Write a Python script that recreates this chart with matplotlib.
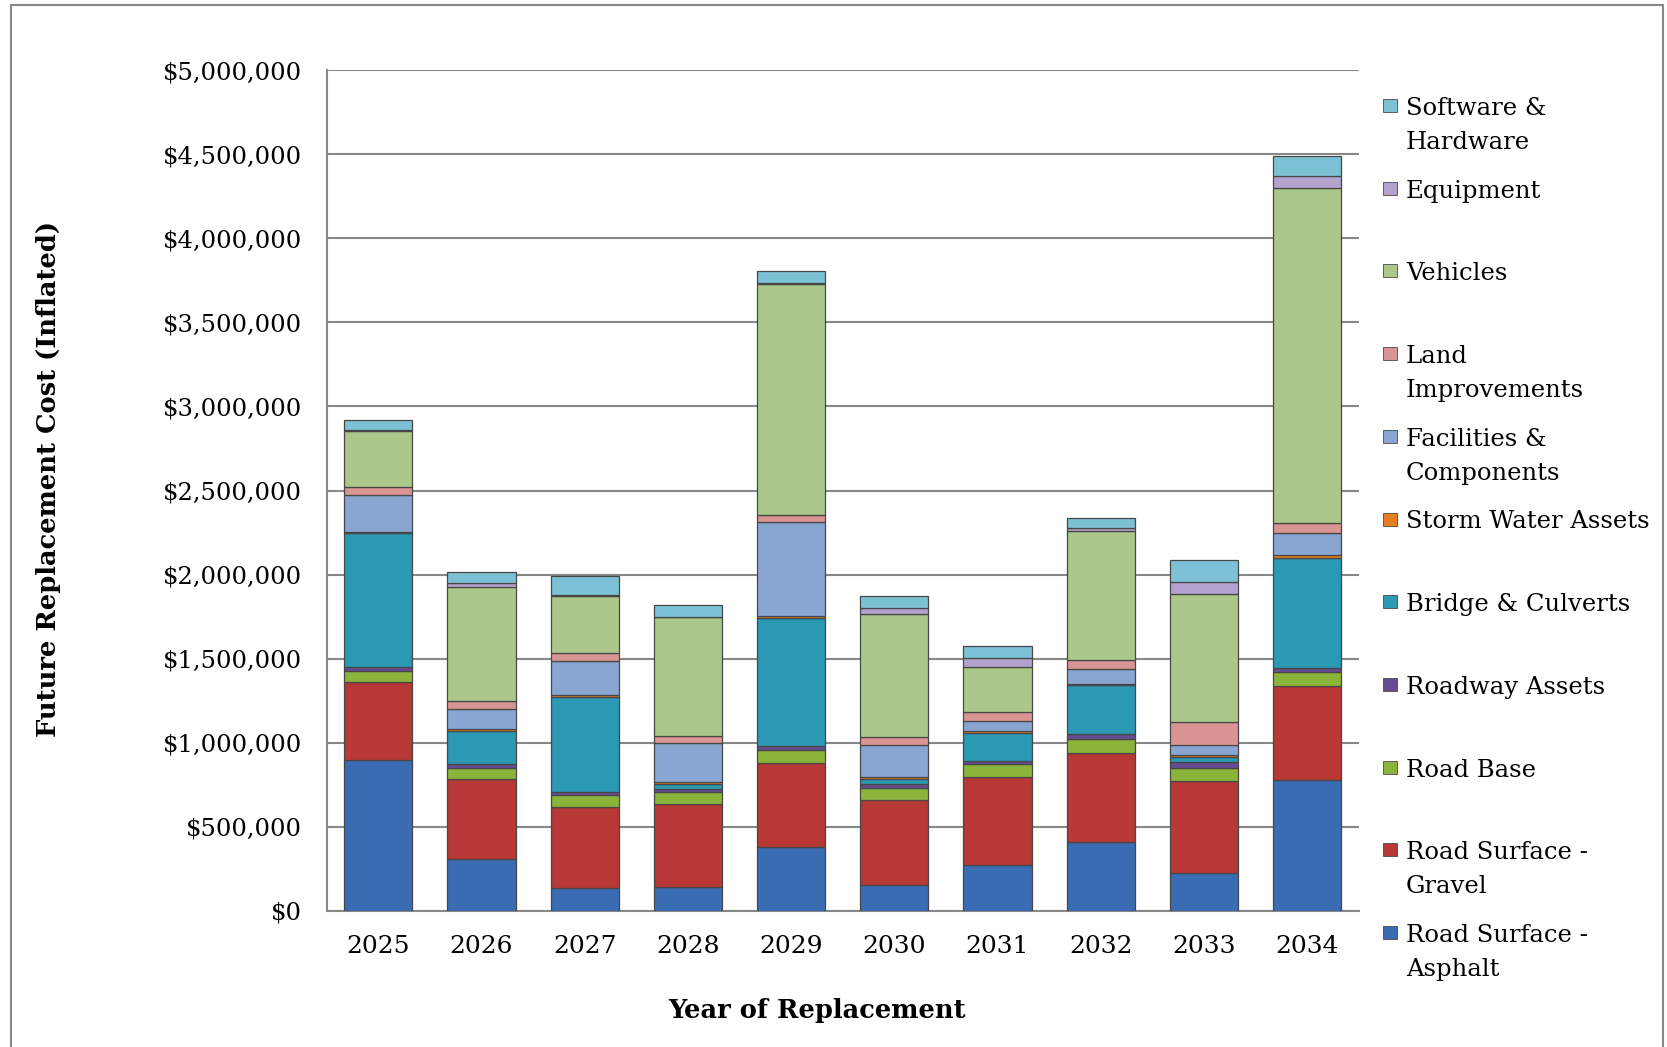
import numpy as np
import matplotlib
matplotlib.use('Agg')
import matplotlib.pyplot as plt
from matplotlib.patches import Rectangle
from matplotlib.ticker import FuncFormatter

# Replacement cost per year ($)
years = ['2025', '2026', '2027', '2028', '2029', '2030', '2031', '2032', '2033', '2034']
asphalt = [897000, 306000, 135000, 142000, 381000, 152000, 273000, 410000, 228000, 778000]
gravel = [464000, 476000, 484000, 493000, 497000, 508000, 521000, 527000, 547000, 559000]
road_base = [68000, 67000, 69000, 71000, 76000, 71000, 77000, 83000, 77000, 83000]
roadway = [20000, 22000, 22000, 20000, 26000, 25000, 22000, 31000, 36000, 24000]
bridge = [798000, 200000, 562000, 30000, 761000, 26000, 166000, 292000, 29000, 657000]
storm = [8000, 8000, 10000, 13000, 13000, 15000, 8000, 9000, 12000, 14000]
facilities = [220000, 123000, 202000, 228000, 556000, 188000, 60000, 86000, 59000, 134000]
land = [46000, 48000, 48000, 46000, 45000, 51000, 55000, 53000, 136000, 59000]
vehicles = [331000, 679000, 341000, 703000, 1371000, 730000, 269000, 766000, 758000, 1994000]
equipment = [8000, 21000, 4000, 3000, 10000, 36000, 52000, 19000, 71000, 71000]
software = [58000, 64000, 115000, 71000, 70000, 71000, 71000, 63000, 133000, 118000]

series = [
    ('Road Surface -\nAsphalt', asphalt, '#3A6CB3'),
    ('Road Surface -\nGravel', gravel, '#B83835'),
    ('Road Base', road_base, '#8BB43B'),
    ('Roadway Assets', roadway, '#684C93'),
    ('Bridge & Culverts', bridge, '#2B98B4'),
    ('Storm Water Assets', storm, '#E67E22'),
    ('Facilities &\nComponents', facilities, '#89A5D2'),
    ('Land\nImprovements', land, '#D99593'),
    ('Vehicles', vehicles, '#ABC78A'),
    ('Equipment', equipment, '#B3A2CD'),
    ('Software &\nHardware', software, '#7CC1D5'),
]

fig = plt.figure(figsize=(16.67, 10.47), dpi=100)
ax = fig.add_axes([0.196, 0.130, 0.619, 0.803])

x = np.arange(len(years))
bottom = np.zeros(len(years))
for name, vals, col in series:
    vals = np.array(vals, dtype=float)
    ax.bar(x, vals, 0.66, bottom=bottom, color=col, edgecolor='#474747',
           linewidth=0.9, zorder=3)
    bottom += vals

ax.set_xlim(-0.5, len(years) - 0.5)
ax.set_ylim(0, 5000000)
ax.set_yticks(np.arange(0, 5000001, 500000))
ax.yaxis.set_major_formatter(FuncFormatter(lambda v, p: '${:,.0f}'.format(v)))
ax.set_xticks(x)
ax.set_xticklabels(years)
ax.grid(axis='y', color='#878787', linewidth=1.5, zorder=0)
for s in ['top', 'right']:
    ax.spines[s].set_visible(False)
for s in ['left', 'bottom']:
    ax.spines[s].set_color('#878787')
    ax.spines[s].set_linewidth(1.5)
ax.tick_params(axis='y', length=0, pad=18, labelsize=17.5)
ax.tick_params(axis='x', length=0, pad=17, labelsize=18)
for lab in ax.get_xticklabels() + ax.get_yticklabels():
    lab.set_family('DejaVu Serif')

fig.text(0.029, 0.543, 'Future Replacement Cost (Inflated)', rotation=90,
         ha='center', va='center', fontsize=18.5, fontweight='bold', family='DejaVu Serif')
fig.text(0.490, 0.035, 'Year of Replacement', ha='center', va='center',
         fontsize=18.5, fontweight='bold', family='DejaVu Serif')

# legend drawn by hand, top entry = last series
y0 = 1 - 115 / 1047
dy = 82.7 / 1047
gap = 34 / 1047
for i, (name, vals, col) in enumerate(reversed(series)):
    yb = y0 - i * dy
    fig.patches.append(Rectangle((1383 / 1667, yb + 3 / 1047), 14 / 1667, 13 / 1047,
                                 transform=fig.transFigure, facecolor=col,
                                 edgecolor='#4a4a4a', linewidth=0.6))
    for k, line in enumerate(name.split('\n')):
        fig.text(1406 / 1667, yb - k * gap, line, ha='left', va='baseline',
                 fontsize=17.5, family='DejaVu Serif')

# outer chart border
fig.patches.append(Rectangle((11 / 1667, -0.02), (1663 - 11) / 1667, 0.995 + 0.02,
                             transform=fig.transFigure, fill=False,
                             edgecolor='#878787', linewidth=1.5))

fig.savefig('out.png', dpi=100)
